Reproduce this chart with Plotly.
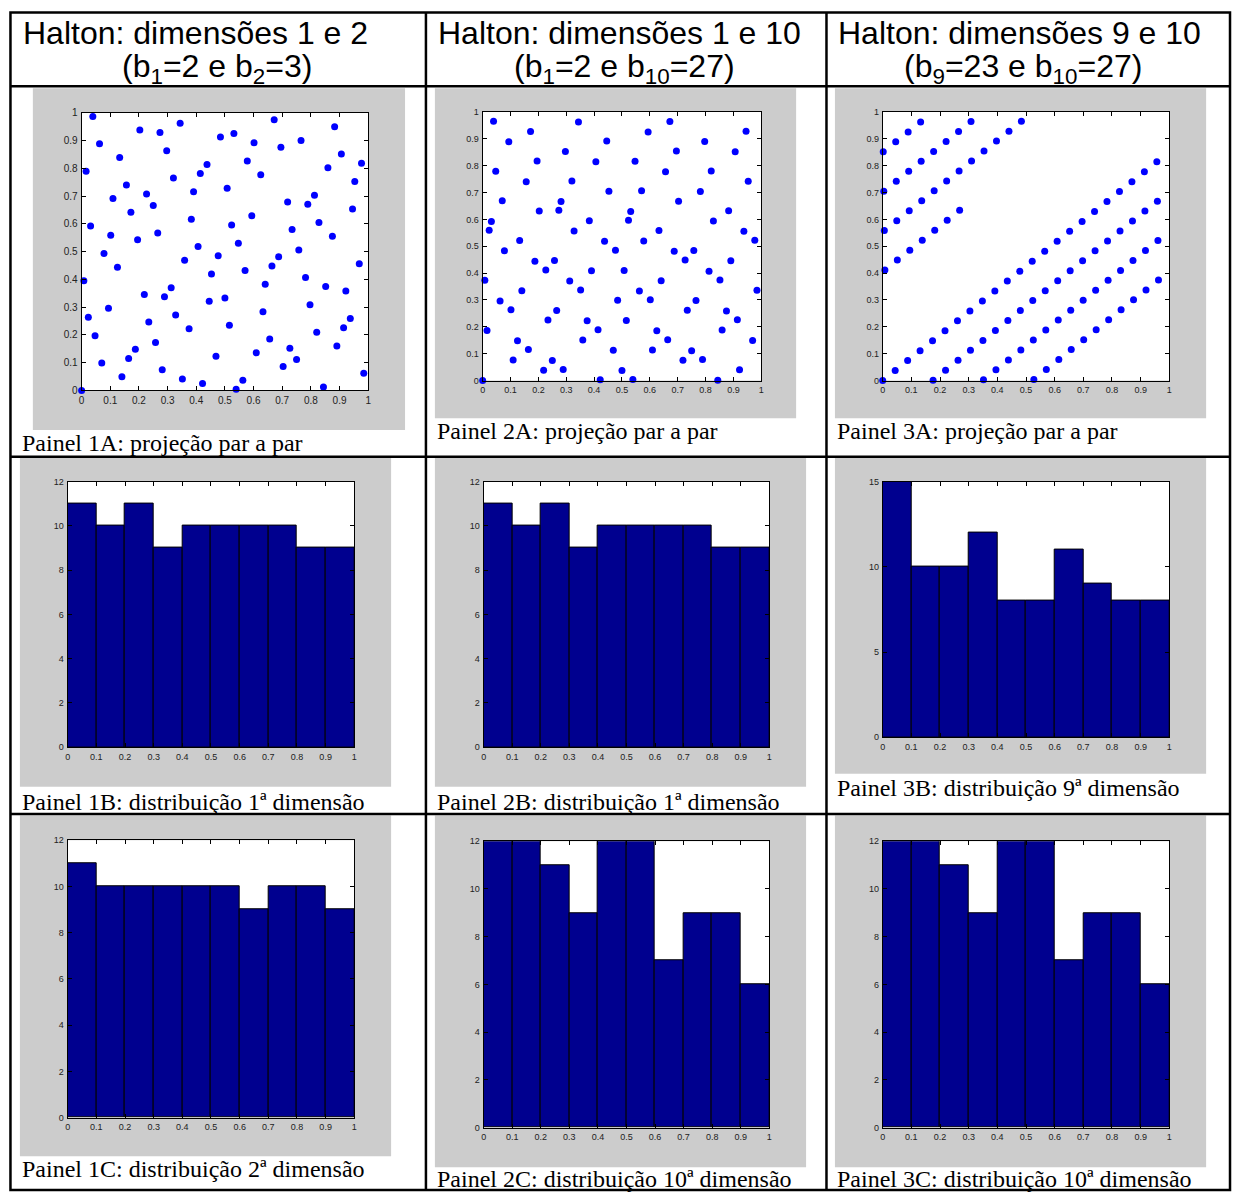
import plotly.graph_objects as go

W, H = 1235, 1198

# ---------------- data (Halton points n = 0..98) ----------------
halton_dim1 = [
    0.0, 0.5, 0.25, 0.75, 0.125, 0.625, 0.375, 0.875,
    0.0625, 0.5625, 0.3125, 0.8125, 0.1875, 0.6875, 0.4375, 0.9375,
    0.0313, 0.5313, 0.2813, 0.7813, 0.1563, 0.6563, 0.4063, 0.9063,
    0.0938, 0.5938, 0.3438, 0.8438, 0.2188, 0.7188, 0.4688, 0.9688,
    0.0156, 0.5156, 0.2656, 0.7656, 0.1406, 0.6406, 0.3906, 0.8906,
    0.0781, 0.5781, 0.3281, 0.8281, 0.2031, 0.7031, 0.4531, 0.9531,
    0.0469, 0.5469, 0.2969, 0.7969, 0.1719, 0.6719, 0.4219, 0.9219,
    0.1094, 0.6094, 0.3594, 0.8594, 0.2344, 0.7344, 0.4844, 0.9844,
    0.0078, 0.5078, 0.2578, 0.7578, 0.1328, 0.6328, 0.3828, 0.8828,
    0.0703, 0.5703, 0.3203, 0.8203, 0.1953, 0.6953, 0.4453, 0.9453,
    0.0391, 0.5391, 0.2891, 0.7891, 0.1641, 0.6641, 0.4141, 0.9141,
    0.1016, 0.6016, 0.3516, 0.8516, 0.2266, 0.7266, 0.4766, 0.9766,
    0.0234, 0.5234, 0.2734,
]

halton_dim2 = [
    0.0, 0.3333, 0.6667, 0.1111, 0.4444, 0.7778, 0.2222, 0.5556, 0.8889,
    0.0370, 0.3704, 0.7037, 0.1481, 0.4815, 0.8148, 0.2593, 0.5926, 0.9259,
    0.0741, 0.4074, 0.7407, 0.1852, 0.5185, 0.8519, 0.2963, 0.6296, 0.9630,
    0.0123, 0.3457, 0.6790, 0.1235, 0.4568, 0.7901, 0.2346, 0.5679, 0.9012,
    0.0494, 0.3827, 0.7160, 0.1605, 0.4938, 0.8272, 0.2716, 0.6049, 0.9383,
    0.0864, 0.4198, 0.7531, 0.1975, 0.5309, 0.8642, 0.3086, 0.6420, 0.9753,
    0.0247, 0.3580, 0.6914, 0.1358, 0.4691, 0.8025, 0.2469, 0.5802, 0.9136,
    0.0617, 0.3951, 0.7284, 0.1728, 0.5062, 0.8395, 0.2840, 0.6173, 0.9506,
    0.0988, 0.4321, 0.7654, 0.2099, 0.5432, 0.8765, 0.3210, 0.6543, 0.9877,
    0.0041, 0.3374, 0.6708, 0.1152, 0.4486, 0.7819, 0.2263, 0.5597, 0.8930,
    0.0412, 0.3745, 0.7078, 0.1523, 0.4856, 0.8189, 0.2634, 0.5967, 0.9300,
]

halton_dim9 = [
    0.0, 0.0435, 0.0870, 0.1304, 0.1739, 0.2174, 0.2609, 0.3043, 0.3478, 0.3913, 0.4348, 0.4783,
    0.5217, 0.5652, 0.6087, 0.6522, 0.6957, 0.7391, 0.7826, 0.8261, 0.8696, 0.9130, 0.9565,
    0.0019, 0.0454, 0.0888, 0.1323, 0.1758, 0.2193, 0.2628, 0.3062, 0.3497, 0.3932, 0.4367, 0.4802,
    0.5236, 0.5671, 0.6106, 0.6541, 0.6975, 0.7410, 0.7845, 0.8280, 0.8715, 0.9149, 0.9584,
    0.0038, 0.0473, 0.0907, 0.1342, 0.1777, 0.2212, 0.2647, 0.3081, 0.3516, 0.3951, 0.4386, 0.4820,
    0.5255, 0.5690, 0.6125, 0.6560, 0.6994, 0.7429, 0.7864, 0.8299, 0.8733, 0.9168, 0.9603,
    0.0057, 0.0491, 0.0926, 0.1361, 0.1796, 0.2231, 0.2665, 0.3100, 0.3535, 0.3970, 0.4405, 0.4839,
    0.5274, 0.5709, 0.6144, 0.6578, 0.7013, 0.7448, 0.7883, 0.8318, 0.8752, 0.9187, 0.9622,
    0.0076, 0.0510, 0.0945, 0.1380, 0.1815, 0.2250, 0.2684,
]

halton_dim10 = [
    0.0, 0.0370, 0.0741, 0.1111, 0.1481, 0.1852, 0.2222, 0.2593, 0.2963, 0.3333, 0.3704, 0.4074, 0.4444, 0.4815,
    0.5185, 0.5556, 0.5926, 0.6296, 0.6667, 0.7037, 0.7407, 0.7778, 0.8148, 0.8519, 0.8889, 0.9259, 0.9630,
    0.0014, 0.0384, 0.0754, 0.1125, 0.1495, 0.1866, 0.2236, 0.2606, 0.2977, 0.3347, 0.3717, 0.4088, 0.4458, 0.4829,
    0.5199, 0.5569, 0.5940, 0.6310, 0.6680, 0.7051, 0.7421, 0.7792, 0.8162, 0.8532, 0.8903, 0.9273, 0.9643,
    0.0027, 0.0398, 0.0768, 0.1139, 0.1509, 0.1879, 0.2250, 0.2620, 0.2990, 0.3361, 0.3731, 0.4102, 0.4472, 0.4842,
    0.5213, 0.5583, 0.5953, 0.6324, 0.6694, 0.7064, 0.7435, 0.7805, 0.8176, 0.8546, 0.8916, 0.9287, 0.9657,
    0.0041, 0.0412, 0.0782, 0.1152, 0.1523, 0.1893, 0.2263, 0.2634, 0.3004, 0.3374, 0.3745, 0.4115, 0.4486, 0.4856,
    0.5226, 0.5597, 0.5967, 0.6337,
]

bin_centers = [0.05, 0.15, 0.25, 0.35, 0.45, 0.55, 0.65, 0.75, 0.85, 0.95]
counts_1B = [11, 10, 11, 9, 10, 10, 10, 10, 9, 9]
counts_2B = [11, 10, 11, 9, 10, 10, 10, 10, 9, 9]
counts_3B = [15, 10, 10, 12, 8, 8, 11, 9, 8, 8]
counts_1C = [11, 10, 10, 10, 10, 10, 9, 10, 10, 9]
counts_2C = [12, 12, 11, 9, 12, 12, 7, 9, 9, 6]
counts_3C = [12, 12, 11, 9, 12, 12, 7, 9, 9, 6]

header_line1 = ["Halton: dimensões 1 e 2", "Halton: dimensões 1 e 10", "Halton: dimensões 9 e 10"]
header_line2 = ["(b<sub>1</sub>=2 e b<sub>2</sub>=3)",
                "(b<sub>1</sub>=2 e b<sub>10</sub>=27)",
                "(b<sub>9</sub>=23 e b<sub>10</sub>=27)"]
captions = {
    "1A": "Painel 1A: projeção par a par",
    "2A": "Painel 2A: projeção par a par",
    "3A": "Painel 3A: projeção par a par",
    "1B": "Painel 1B: distribuição 1ª dimensão",
    "2B": "Painel 2B: distribuição 1ª dimensão",
    "3B": "Painel 3B: distribuição 9ª dimensão",
    "1C": "Painel 1C: distribuição 2ª dimensão",
    "2C": "Painel 2C: distribuição 10ª dimensão",
    "3C": "Painel 3C: distribuição 10ª dimensão",
}

# ---------------- layout geometry (pixels) ----------------
# key, kind, axes box (x0,x1,ytop,ybot), gray box (x0,x1,ytop,ybot), caption x, caption y, tick font size
panels = [
    ("1A", "scatter", (79, 367, 109, 389), (30, 404, 84, 429), 17, 442, 10),
    ("2A", "scatter", (482, 762, 108, 379), (434, 797, 84, 417), 434, 430, 9),
    ("3A", "scatter", (884, 1172, 108, 379), (836, 1209, 84, 417), 836, 430, 9),
    ("1B", "hist", (65, 353, 481, 749), (17, 390, 457, 789), 17, 804, 9),
    ("2B", "hist", (483, 770, 481, 749), (434, 807, 457, 789), 434, 804, 9),
    ("3B", "hist", (884, 1172, 481, 739), (836, 1209, 457, 776), 836, 790, 9),
    ("1C", "hist", (65, 353, 843, 1123), (17, 390, 818, 1162), 17, 1175, 9),
    ("2C", "hist", (483, 770, 844, 1133), (434, 807, 818, 1173), 434, 1185, 9),
    ("3C", "hist", (884, 1172, 844, 1133), (836, 1209, 818, 1173), 836, 1185, 9),
]

scatter_data = {
    "1A": (halton_dim1, halton_dim2),
    "2A": (halton_dim1, halton_dim10),
    "3A": (halton_dim9, halton_dim10),
}
hist_data = {
    "1B": (counts_1B, 12, 2),
    "2B": (counts_2B, 12, 2),
    "3B": (counts_3B, 15, 5),
    "1C": (counts_1C, 12, 2),
    "2C": (counts_2C, 12, 2),
    "3C": (counts_3C, 12, 2),
}

MARKER_BLUE = "#0000ff"
BAR_NAVY = "#00008f"
GRAY = "#cccccc"


def px_x(x):
    return x / W


def px_y(y):
    return 1 - y / H


def axis_style(rng, dtick, domain, fsize):
    return dict(
        domain=domain, range=rng, autorange=False, dtick=dtick, tick0=0,
        showline=True, linecolor="black", linewidth=1, mirror="ticks",
        ticks="inside", ticklen=4, tickwidth=1, tickcolor="black",
        showgrid=False, zeroline=False, fixedrange=True,
        tickfont=dict(family="Arial, Liberation Sans, sans-serif", size=fsize, color="#222222"),
        ticklabelstandoff=1,
    )


fig = go.Figure()
layout = dict(
    width=W, height=H, margin=dict(l=0, r=0, t=0, b=0),
    paper_bgcolor="white", plot_bgcolor="rgba(0,0,0,0)",
    showlegend=False, bargap=0,
)
shapes = []
annotations = []

for i, (key, kind, ax, gray, cx, cy, fs) in enumerate(panels, start=1):
    xname = "x" if i == 1 else f"x{i}"
    yname = "y" if i == 1 else f"y{i}"
    xkey = "xaxis" if i == 1 else f"xaxis{i}"
    ykey = "yaxis" if i == 1 else f"yaxis{i}"
    ax0, ax1, at, ab = ax
    xdom = [px_x(ax0), px_x(ax1)]
    ydom = [px_y(ab), px_y(at)]

    # figure background (MATLAB gray) and white axes area
    shapes.append(dict(type="rect", xref="paper", yref="paper", layer="below",
                       x0=px_x(gray[0]), x1=px_x(gray[1]), y0=px_y(gray[3]), y1=px_y(gray[2]),
                       fillcolor=GRAY, line=dict(width=0)))
    shapes.append(dict(type="rect", xref="paper", yref="paper", layer="below",
                       x0=xdom[0], x1=xdom[1], y0=ydom[0], y1=ydom[1],
                       fillcolor="white", line=dict(width=0)))

    if kind == "scatter":
        xs, ys = scatter_data[key]
        fig.add_trace(go.Scatter(x=xs, y=ys, mode="markers", xaxis=xname, yaxis=yname,
                                 marker=dict(color=MARKER_BLUE, size=7, line=dict(width=0)),
                                 cliponaxis=False, hoverinfo="skip"))
        layout[xkey] = axis_style([0, 1], 0.1, xdom, fs)
        layout[ykey] = axis_style([0, 1], 0.1, ydom, fs)
    else:
        cnts, ymax, ydt = hist_data[key]
        fig.add_trace(go.Bar(x=bin_centers, y=cnts, width=0.1, xaxis=xname, yaxis=yname,
                             marker=dict(color=BAR_NAVY, line=dict(color="black", width=1)),
                             hoverinfo="skip"))
        layout[xkey] = axis_style([0, 1], 0.1, xdom, fs)
        layout[ykey] = axis_style([0, ymax], ydt, ydom, fs)
    layout[xkey]["anchor"] = yname
    layout[ykey]["anchor"] = xname

    annotations.append(dict(text=captions[key], xref="paper", yref="paper",
                            x=px_x(cx), y=px_y(cy), xanchor="left", yanchor="middle",
                            showarrow=False,
                            font=dict(family="Liberation Serif, Times New Roman, serif",
                                      size=24, color="black")))

# header row
col_left = [18, 435, 837]
col_center = [215, 625, 1025]
for j in range(3):
    annotations.append(dict(text=header_line1[j], xref="paper", yref="paper",
                            x=px_x(col_left[j]), y=px_y(28), xanchor="left", yanchor="middle",
                            showarrow=False,
                            font=dict(family="Liberation Sans, Arial, sans-serif", size=32, color="black")))
    annotations.append(dict(text=header_line2[j], xref="paper", yref="paper",
                            x=px_x(col_center[j]), y=px_y(64), xanchor="center", yanchor="middle",
                            showarrow=False,
                            font=dict(family="Liberation Sans, Arial, sans-serif", size=32, color="black")))

# table grid lines
table_left, table_right, table_top, table_bottom = 7.5, 1233, 7.5, 1196
col_lines = [425, 827.5]
row_lines = [82, 456, 816.5]
line_style = dict(color="black", width=2.5)
shapes.append(dict(type="rect", xref="paper", yref="paper", layer="above",
                   x0=px_x(table_left), x1=px_x(table_right), y0=px_y(table_bottom), y1=px_y(table_top),
                   line=line_style))
for cxl in col_lines:
    shapes.append(dict(type="line", xref="paper", yref="paper", layer="above",
                       x0=px_x(cxl), x1=px_x(cxl), y0=px_y(table_bottom), y1=px_y(table_top),
                       line=line_style))
for ryl in row_lines:
    shapes.append(dict(type="line", xref="paper", yref="paper", layer="above",
                       x0=px_x(table_left), x1=px_x(table_right), y0=px_y(ryl), y1=px_y(ryl),
                       line=line_style))

layout["shapes"] = shapes
layout["annotations"] = annotations
fig.update_layout(**layout)
fig.write_html(
    "out.html",
    config={"displayModeBar": False},
    post_script="document.body.style.margin='0';document.body.style.padding='0';"
                "document.documentElement.style.overflow='hidden';",
)
